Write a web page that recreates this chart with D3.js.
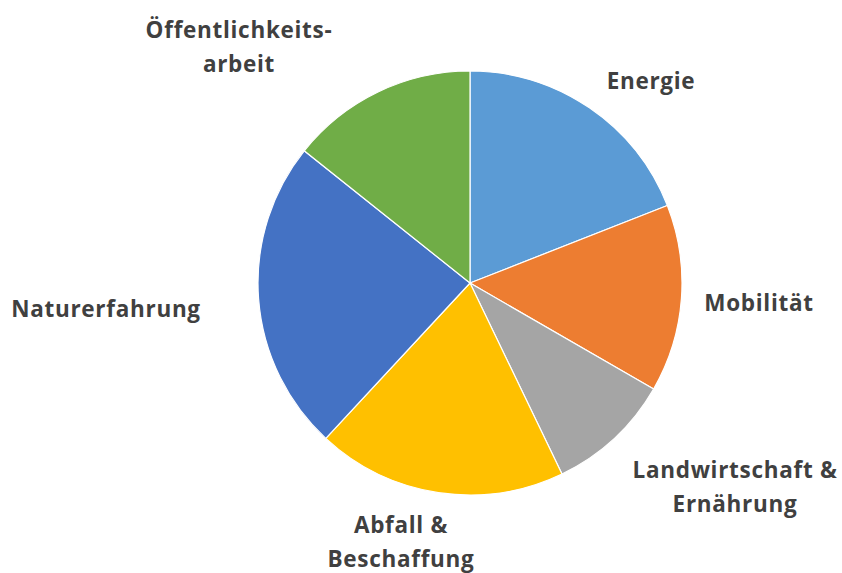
<!DOCTYPE html>
<html>
<head>
<meta charset="utf-8">
<script src="https://cdn.jsdelivr.net/npm/d3@7"></script>
<style>
  body { margin: 0; background: #fff; }
</style>
</head>
<body>
<div id="chart"></div>
<script>
const categories = ["Energie", "Mobilität", "Landwirtschaft & Ernährung", "Abfall & Beschaffung", "Naturerfahrung", "Öffentlichkeitsarbeit"];
const values = [8, 6, 4, 8, 10, 6];
const colors = ["#5B9BD5", "#ED7D31", "#A5A5A5", "#FFC000", "#4472C4", "#70AD47"];
// Zeilen der Beschriftung wie im Original umbrochen
const labelLines = [["Energie"], ["Mobilität"], ["Landwirtschaft &", "Ernährung"], ["Abfall &", "Beschaffung"], ["Naturerfahrung"], ["Öffentlichkeits-", "arbeit"]];

const width = 842, height = 573;
const cx = 470, cy = 283, radius = 212;

const svg = d3.select("#chart")
  .append("svg")
  .attr("width", width)
  .attr("height", height);

const pie = d3.pie().sort(null).value(d => d);
const arcs = pie(values);
const arc = d3.arc().innerRadius(0).outerRadius(radius);

const g = svg.append("g").attr("transform", `translate(${cx},${cy})`);

// Segmente
g.selectAll("path")
  .data(arcs)
  .enter()
  .append("path")
  .attr("d", arc)
  .attr("fill", (d, i) => colors[i])
  .attr("stroke", "#fff")
  .attr("stroke-width", 1.2);

// Beschriftungen außerhalb des Kreises
const labelPos = [
  [651, 89], [759, 311], [735, 478], [401, 533], [106, 317], [239, 38]
];
const lineHeight = 34;

svg.selectAll(".label")
  .data(arcs)
  .enter()
  .append("text")
  .attr("class", "label")
  .attr("text-anchor", "middle")
  .style("font-family", "'Open Sans', sans-serif")
  .style("font-weight", "bold")
  .style("font-size", "22.5px")
  .style("letter-spacing", "0.7px")
  .style("fill", "#404040")
  .each(function(d, i) {
    const t = d3.select(this);
    labelLines[i].forEach((line, j) => {
      t.append("tspan")
        .attr("x", labelPos[i][0])
        .attr("y", labelPos[i][1] + j * lineHeight)
        .text(line);
    });
  });
</script>
</body>
</html>
